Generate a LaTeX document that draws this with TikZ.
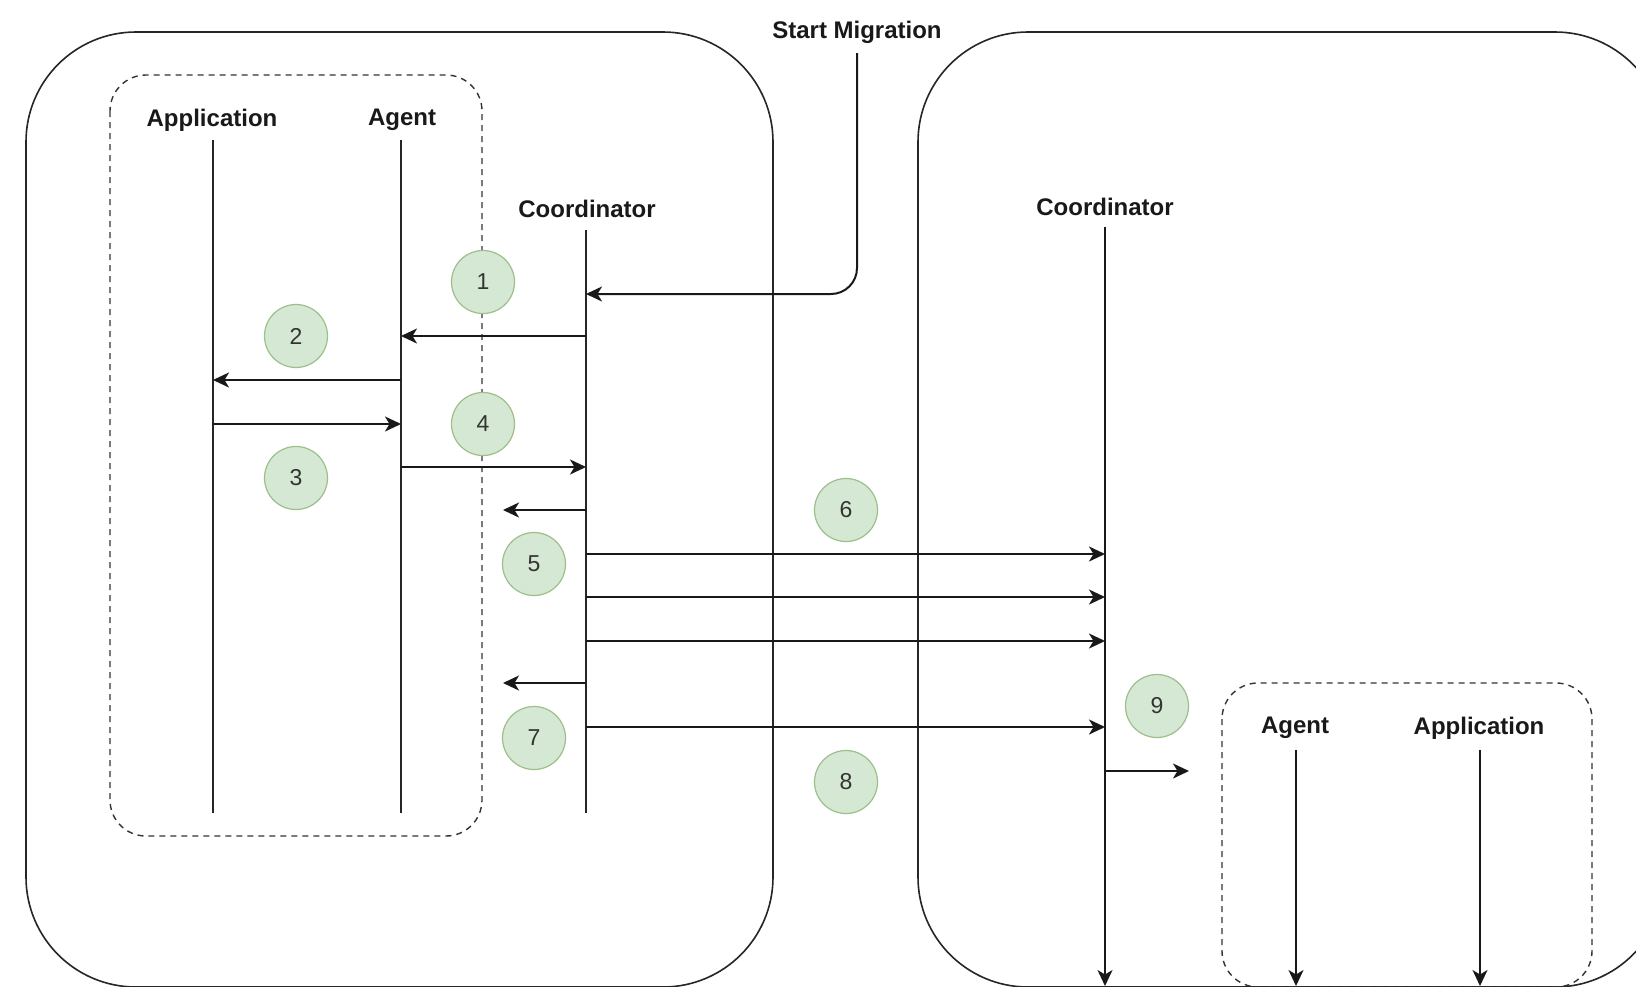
\documentclass[tikz,border=0pt]{standalone}
\usepackage{fontspec}
\setmainfont{Liberation Sans}
\usetikzlibrary{arrows.meta}
\definecolor{stepfill}{HTML}{D5E8D4}
\definecolor{stepline}{HTML}{9DBF8A}

\begin{document}
\begin{tikzpicture}[x=1pt,y=-1pt,
  hostbox/.style={draw=black!85, line width=1.6pt, rounded corners=110pt},
  groupbox/.style={draw=black!80, line width=1.4pt, dash pattern=on 6pt off 5pt, rounded corners=36pt},
  actor/.style={font=\bfseries\fontsize{24}{28}\selectfont, inner sep=0pt, text=black!90},
  lifeline/.style={draw=black!85, line width=1.6pt},
  msg/.style={draw=black!90, line width=2pt, -{Stealth[length=16pt,width=15pt,inset=4.5pt]}},
  stepmark/.style={circle, draw=stepline, fill=stepfill, line width=1.2pt,
    minimum size=63pt, inner sep=0pt, text=black!80, font=\fontsize{23}{27}\selectfont}
]
\clip (0,0) rectangle (1636,986);
\fill[white] (0,0) rectangle (1636,986);

% hosts and process groups
\draw[hostbox] (26,32) rectangle (773,987);
\draw[hostbox] (918,32) rectangle (1665,987);
\draw[groupbox] (110,75) rectangle (482,836);
\draw[groupbox] (1222,683) rectangle (1592,987);

% participants
\node[actor] (appL) at (212,120) {Application};
\node[actor] (agL)  at (402,120) {Agent};
\node[actor] (coL)  at (587,209) {Coordinator};
\node[actor] (start) at (857,32) {Start Migration};
\node[actor] (coR)  at (1105,207) {Coordinator};
\node[actor] (agR)  at (1295,728) {Agent};
\node[actor] (appR) at (1479,728) {Application};

% lifeline ends
\coordinate (appLt) at (213,140);  \coordinate (appLb) at (213,813);
\coordinate (agLt)  at (401,140);  \coordinate (agLb)  at (401,813);
\coordinate (coLt)  at (586,230);  \coordinate (coLb)  at (586,813);
\coordinate (coRt)  at (1105,227); \coordinate (coRb)  at (1105,986);
\coordinate (agRt)  at (1296,750); \coordinate (agRb)  at (1296,986);
\coordinate (appRt) at (1480,750); \coordinate (appRb) at (1480,986);
\coordinate (startT) at (857,53);

\draw[lifeline] (appLt) -- (appLb);
\draw[lifeline] (agLt) -- (agLb);
\draw[lifeline] (coLt) -- (coLb);
\draw[msg, line width=1.6pt] (coRt) -- (coRb);
\draw[msg, line width=1.6pt] (agRt) -- (agRb);
\draw[msg, line width=1.6pt] (appRt) -- (appRb);

% message rows
\coordinate (r1) at (0,294);
\coordinate (r2) at (0,336);
\coordinate (r3) at (0,380);
\coordinate (r4) at (0,424);
\coordinate (r5) at (0,467);
\coordinate (r6) at (0,510);
\coordinate (r7) at (0,554);
\coordinate (r8) at (0,597);
\coordinate (r9) at (0,641);
\coordinate (r10) at (0,683);
\coordinate (r11) at (0,727);
\coordinate (r12) at (0,771);
\coordinate (replyL) at (503,0);
\coordinate (handR) at (1189,0);

% messages
\draw[msg, rounded corners=26pt] (startT) |- (coLt |- r1);
\draw[msg] (coLt |- r2) -- (agLt |- r2);
\draw[msg] (agLt |- r3) -- (appLt |- r3);
\draw[msg] (appLt |- r4) -- (agLt |- r4);
\draw[msg] (agLt |- r5) -- (coLt |- r5);
\draw[msg] (coLt |- r6) -- (replyL |- r6);
\draw[msg] (coLt |- r7) -- (coRt |- r7);
\draw[msg] (coLt |- r8) -- (coRt |- r8);
\draw[msg] (coLt |- r9) -- (coRt |- r9);
\draw[msg] (coLt |- r10) -- (replyL |- r10);
\draw[msg] (coLt |- r11) -- (coRt |- r11);
\draw[msg] (coRt |- r12) -- (handR |- r12);

% step markers
\node[stepmark] (s1) at (483,282) {1};
\node[stepmark] (s2) at (296,336) {2};
\node[stepmark] (s3) at (296,478) {3};
\node[stepmark] (s4) at (483,424) {4};
\node[stepmark] (s5) at (534,564) {5};
\node[stepmark] (s6) at (846,510) {6};
\node[stepmark] (s7) at (534,738) {7};
\node[stepmark] (s8) at (846,782) {8};
\node[stepmark] (s9) at (1157,706) {9};
\end{tikzpicture}
\end{document}
